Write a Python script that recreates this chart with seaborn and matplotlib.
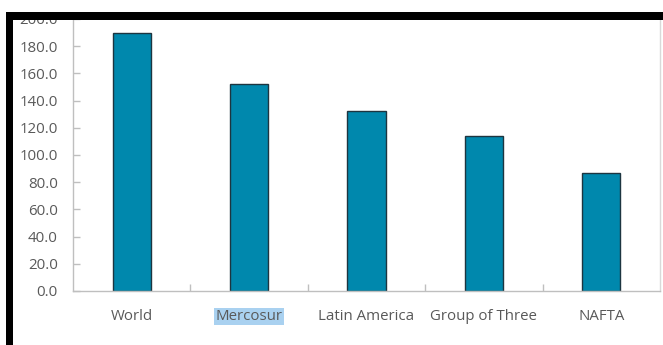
import matplotlib
matplotlib.use("Agg")
import matplotlib.pyplot as plt
import seaborn as sns
import pandas as pd
from matplotlib.patches import Rectangle

categories = ["World", "Mercosur", "Latin America", "Group of Three", "NAFTA"]
values = [190.0, 152.0, 132.0, 114.0, 86.5]
yticks = [0, 20, 40, 60, 80, 100, 120, 140, 160, 180, 200]

df = pd.DataFrame({"region": categories, "value": values})

sns.set_theme(style="white")
plt.rcParams["font.family"] = ["Open Sans", "DejaVu Sans"]

fig = plt.figure(figsize=(6.63, 3.45), dpi=100)
ax = fig.add_axes([73/663, 1-291/345, (660-73)/663, (291-19)/345])

sns.barplot(data=df, x="region", y="value", ax=ax, color="#0088AD",
            saturation=1, width=0.324, edgecolor="#1d3540", linewidth=1.0)

ax.set_ylim(0, 200)
ax.set_xlim(-0.5, 4.5)
ax.set_yticks(yticks)
ax.set_yticklabels([f"{v:.1f}" for v in yticks])
ax.set_xticks(range(len(categories)))
ax.set_xticklabels(categories)
ax.set_xticks([0.5, 1.5, 2.5, 3.5], minor=True)
ax.set_xlabel("")
ax.set_ylabel("")

grey = "#bfbfbf"
for s in ["left", "bottom", "right"]:
    ax.spines[s].set_color(grey)
    ax.spines[s].set_linewidth(1.0)
ax.spines["top"].set_visible(False)
ax.spines["right"].set_color("#d9d9d9")

ax.tick_params(axis="y", direction="in", length=5, width=1, color=grey,
               pad=11, labelsize=10.8, labelcolor="#595959", left=True)
ax.tick_params(axis="x", which="major", length=0, pad=13, labelsize=10.8,
               labelcolor="#595959")
ax.tick_params(axis="x", which="minor", direction="in", length=5, width=1,
               color=grey, bottom=True)

for lbl in ax.get_xticklabels():
    if lbl.get_text() == "Mercosur":
        lbl.set_bbox(dict(facecolor="#a9d1f0", edgecolor="none", pad=1.0))

# black frame of screenshot
fig.patches.append(Rectangle((0, 1-12/345), 1, 12/345, transform=fig.transFigure,
                             facecolor="white", edgecolor="none", zorder=9))
fig.patches.append(Rectangle((6/663, 1-20/345), 1, 8/345, transform=fig.transFigure,
                             facecolor="black", edgecolor="none", zorder=10))
fig.patches.append(Rectangle((6/663, 0), 7/663, 1-12/345, transform=fig.transFigure,
                             facecolor="black", edgecolor="none", zorder=10))

fig.savefig("out.png", dpi=100)
